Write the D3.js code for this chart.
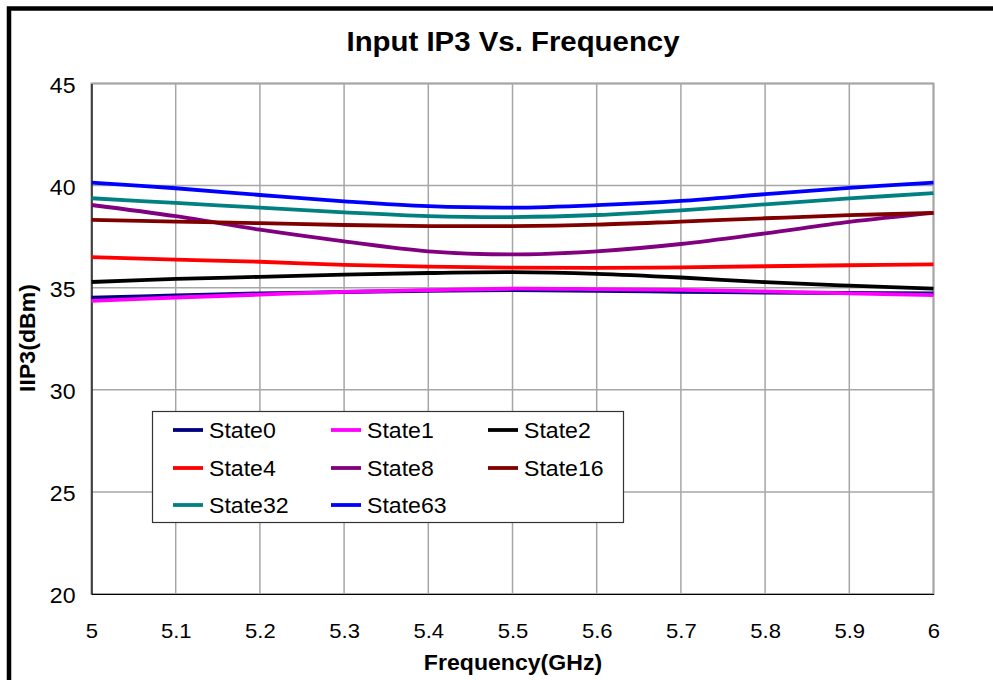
<!DOCTYPE html>
<html><head><meta charset="utf-8">
<script src="https://cdn.jsdelivr.net/npm/d3@7"></script>
<style>html,body{margin:0;padding:0;background:#fff;}svg{display:block;font-family:Arial,"Liberation Sans",sans-serif;}</style>
</head><body><svg id="c" width="993" height="680"></svg>
<script>
const freqs = [5.0, 5.1, 5.2, 5.3, 5.4, 5.5, 5.6, 5.7, 5.8, 5.9, 6.0];
const xTicks = [5, 5.1, 5.2, 5.3, 5.4, 5.5, 5.6, 5.7, 5.8, 5.9, 6];
const yTicks = [20, 25, 30, 35, 40, 45];
const seriesNames = ["State0", "State1", "State2", "State4", "State8", "State16", "State32", "State63"];
const seriesColors = ["#000080", "#FF00FF", "#000000", "#FF0000", "#800080", "#800000", "#008080", "#0000FF"];
const state0  = [34.51, 34.62, 34.72, 34.79, 34.85, 34.88, 34.85, 34.80, 34.76, 34.74, 34.72];
const state1  = [34.35, 34.52, 34.66, 34.80, 34.88, 34.95, 34.93, 34.89, 34.82, 34.72, 34.64];
const state2  = [35.28, 35.43, 35.53, 35.64, 35.72, 35.76, 35.68, 35.50, 35.27, 35.10, 34.95];
const state4  = [36.50, 36.37, 36.27, 36.12, 36.03, 35.98, 35.97, 36.00, 36.05, 36.10, 36.14];
const state8  = [39.05, 38.50, 37.84, 37.27, 36.78, 36.63, 36.78, 37.14, 37.66, 38.22, 38.66];
const state16 = [38.32, 38.24, 38.16, 38.07, 38.02, 38.02, 38.09, 38.24, 38.40, 38.55, 38.66];
const state32 = [39.38, 39.15, 38.92, 38.69, 38.51, 38.46, 38.56, 38.79, 39.08, 39.37, 39.63];
const state63 = [40.15, 39.87, 39.54, 39.23, 38.99, 38.92, 39.04, 39.25, 39.58, 39.89, 40.15];
const seriesValues = [state0, state1, state2, state4, state8, state16, state32, state63];

const svg = d3.select("#c");
const SX = 1.05; // slight horizontal glyph stretch seen in the reference
function stretchedText(g, x, y, str, opts) {
  const t = g.append("text")
    .attr("transform", `translate(${x},${y}) rotate(${opts.rot||0}) scale(${SX},1)`)
    .attr("text-anchor", opts.anchor || "start")
    .attr("font-size", opts.size)
    .attr("font-weight", opts.bold ? "bold" : "normal")
    .attr("fill", "#000")
    .text(str);
  if (opts.dy) t.attr("dy", opts.dy);
  return t;
}

// outer frame
svg.append("rect").attr("x", 9).attr("y", 8.5).attr("width", 1100).attr("height", 800)
  .attr("fill", "none").attr("stroke", "#000").attr("stroke-width", 4.5);

const L = 91.5, R = 933.5, T = 83.5, B = 594;
const x = d3.scaleLinear().domain([5, 6]).range([L, R]);
const y = d3.scaleLinear().domain([20, 45]).range([B, T]);

// grid
const grid = svg.append("g");
grid.selectAll(".vg").data(xTicks).join("line")
  .attr("x1", d => x(d)).attr("x2", d => x(d)).attr("y1", T).attr("y2", B)
  .attr("stroke", "#a6a6a6").attr("stroke-width", 1.5);
grid.selectAll(".hg").data(yTicks).join("line")
  .attr("x1", L).attr("x2", R).attr("y1", d => y(d)).attr("y2", d => y(d))
  .attr("stroke", "#a6a6a6").attr("stroke-width", 1.5);
svg.append("rect").attr("x", L).attr("y", T).attr("width", R - L).attr("height", B - T)
  .attr("fill", "none").attr("stroke", "#a6a6a6").attr("stroke-width", 2);

// axes via d3
const xAxis = svg.append("g").attr("transform", `translate(0,${B})`)
  .call(d3.axisBottom(x).tickValues(xTicks).tickSize(0).tickFormat(d3.format("")));
xAxis.select(".domain").attr("stroke", "#000").attr("stroke-width", 1.2);
xAxis.selectAll("text").remove();
const yAxis = svg.append("g").attr("transform", `translate(${L},0)`)
  .call(d3.axisLeft(y).tickValues(yTicks).tickSize(0));
yAxis.select(".domain").attr("stroke", "#000").attr("stroke-width", 1.2);
yAxis.selectAll("text").remove();

xAxis.selectAll(".tick").each(function(d) {
  stretchedText(d3.select(this), 0, 44, d3.format("")(d), {size: 21, anchor: "middle"});
});
yAxis.selectAll(".tick").each(function(d) {
  stretchedText(d3.select(this), -16, 1, String(d), {size: 22, anchor: "end", dy: "0.35em"});
});

// lines
const line = d3.line().x((d, i) => x(freqs[i])).y(d => y(d)).curve(d3.curveCatmullRom.alpha(0.5));
svg.append("g").selectAll("path").data(seriesValues).join("path")
  .attr("d", d => line(d)).attr("fill", "none")
  .attr("stroke", (d, i) => seriesColors[i]).attr("stroke-width", 3.8)
  .attr("stroke-linejoin", "round");

// titles
stretchedText(svg, 513, 51, "Input IP3 Vs. Frequency", {size: 28, bold: true, anchor: "middle"});
stretchedText(svg, 513, 670, "Frequency(GHz)", {size: 22, bold: true, anchor: "middle"});
stretchedText(svg, 35, 338, "IIP3(dBm)", {size: 22, bold: true, anchor: "middle", rot: -90});

// legend
const lg = svg.append("g");
lg.append("rect").attr("x", 152.5).attr("y", 411.5).attr("width", 471).attr("height", 111)
  .attr("fill", "#fff").attr("stroke", "#333").attr("stroke-width", 1.2);
const colX = [173, 331, 488], rowY = [430, 468, 505];
seriesNames.forEach((n, i) => {
  const cx = colX[i % 3], cy = rowY[Math.floor(i / 3)];
  lg.append("line").attr("x1", cx).attr("x2", cx + 30).attr("y1", cy).attr("y2", cy)
    .attr("stroke", seriesColors[i]).attr("stroke-width", 3.8);
  stretchedText(lg, cx + 36, cy, n, {size: 22, dy: "0.38em"});
});
</script></body></html>
